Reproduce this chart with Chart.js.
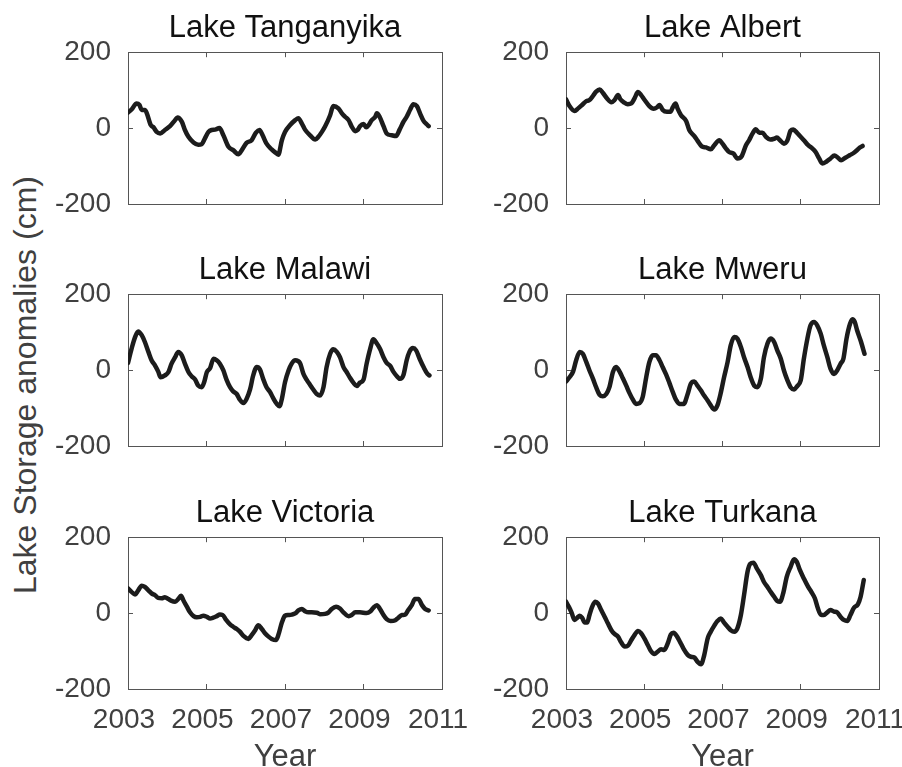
<!DOCTYPE html>
<html>
<head>
<meta charset="utf-8">
<title>Lake Storage anomalies</title>
<script src="https://cdn.jsdelivr.net/npm/chart.js@4.4.1/dist/chart.umd.min.js"></script>
<style>
  html, body { margin: 0; padding: 0; background: #fff; overflow: hidden; }
  #fig { position: relative; width: 902px; height: 767px; }
  #fig canvas { position: absolute; }
  #ylabel {
    position: absolute; left: 25px; top: 385px;
    transform: translate(-50%, -50%) rotate(-90deg);
    font: 32px "Liberation Sans", Arial, sans-serif; line-height: 1;
    color: #404040; white-space: nowrap;
  }
</style>
</head>
<body>
<div id="fig">
  <div id="ylabel">Lake Storage anomalies (cm)</div>
  <canvas id="tanganyika" width="434" height="216" style="left:48px;top:0px"></canvas>
  <canvas id="albert" width="416" height="216" style="left:486px;top:0px"></canvas>
  <canvas id="malawi" width="434" height="216" style="left:48px;top:242px"></canvas>
  <canvas id="mweru" width="416" height="216" style="left:486px;top:242px"></canvas>
  <canvas id="victoria" width="434" height="282" style="left:48px;top:485px"></canvas>
  <canvas id="turkana" width="416" height="282" style="left:486px;top:485px"></canvas>
</div>
<script>
// values (decimal year, storage anomaly in cm)
const tanganyikaYears = [2003.00,2003.09,2003.22,2003.29,2003.35,2003.43,2003.48,2003.58,2003.65,2003.73,
  2003.82,2003.94,2004.07,2004.20,2004.26,2004.37,2004.45,2004.54,2004.67,2004.79,
  2004.88,2004.96,2005.05,2005.13,2005.22,2005.33,2005.43,2005.56,2005.68,2005.81,
  2005.90,2006.02,2006.15,2006.26,2006.35,2006.43,2006.53,2006.66,2006.75,2006.83,
  2006.92,2007.00,2007.13,2007.26,2007.34,2007.43,2007.51,2007.64,2007.77,2007.85,
  2007.94,2008.02,2008.15,2008.23,2008.36,2008.45,2008.53,2008.62,2008.70,2008.79,
  2008.85,2008.91,2009.00,2009.07,2009.13,2009.21,2009.30,2009.34,2009.41,2009.51,
  2009.59,2009.72,2009.83,2009.92,2010.02,2010.10,2010.19,2010.27,2010.36,2010.44,
  2010.53,2010.61,2010.66];
const tanganyikaCm = [41,49,65,61,48,48,39,8,2,-10,
  -14,-5,5,21,28,17,-5,-23,-38,-44,
  -42,-27,-10,-5,-4,0,-19,-49,-58,-69,
  -58,-39,-32,-12,-5,-19,-41,-56,-64,-70,
  -32,-10,8,21,26,12,-4,-19,-30,-23,
  -10,4,34,58,52,39,30,21,4,-8,
  -5,5,11,2,8,21,30,39,30,5,
  -14,-19,-21,-4,17,30,49,63,58,39,
  19,10,5];

const albertYears = [2003.00,2003.09,2003.22,2003.31,2003.43,2003.52,2003.60,2003.69,2003.77,2003.86,
  2003.94,2004.05,2004.16,2004.24,2004.33,2004.39,2004.48,2004.58,2004.67,2004.75,
  2004.84,2004.92,2005.01,2005.13,2005.24,2005.33,2005.39,2005.47,2005.58,2005.67,
  2005.73,2005.80,2005.85,2005.94,2006.07,2006.15,2006.28,2006.36,2006.47,2006.58,
  2006.70,2006.79,2006.92,2007.00,2007.09,2007.17,2007.28,2007.38,2007.49,2007.60,
  2007.68,2007.77,2007.85,2007.94,2008.02,2008.11,2008.22,2008.32,2008.39,2008.47,
  2008.57,2008.66,2008.74,2008.81,2008.90,2008.98,2009.08,2009.19,2009.30,2009.38,
  2009.47,2009.55,2009.66,2009.76,2009.86,2009.95,2010.03,2010.14,2010.26,2010.36,
  2010.44,2010.51,2010.58];
const albertCm = [76,58,45,52,63,71,74,85,96,102,
  93,78,68,74,87,76,68,63,65,78,
  95,87,74,58,51,55,61,48,43,43,
  55,65,52,34,19,-5,-21,-33,-48,-51,
  -56,-45,-32,-41,-54,-63,-67,-80,-74,-45,
  -32,-14,-3,-12,-12,-23,-30,-28,-25,-32,
  -41,-32,-7,-4,-12,-21,-32,-45,-54,-63,
  -80,-93,-88,-80,-72,-78,-85,-78,-71,-65,
  -58,-51,-47];

const malawiYears = [2003.00,2003.09,2003.18,2003.26,2003.35,2003.43,2003.52,2003.60,2003.69,2003.77,
  2003.83,2003.94,2004.03,2004.11,2004.20,2004.28,2004.37,2004.45,2004.54,2004.62,
  2004.71,2004.79,2004.88,2004.94,2005.01,2005.09,2005.18,2005.26,2005.34,2005.43,
  2005.51,2005.60,2005.68,2005.77,2005.85,2005.94,2006.02,2006.11,2006.19,2006.28,
  2006.36,2006.45,2006.53,2006.62,2006.70,2006.79,2006.86,2006.92,2007.00,2007.09,
  2007.17,2007.26,2007.38,2007.47,2007.55,2007.64,2007.72,2007.81,2007.89,2007.98,
  2008.06,2008.15,2008.23,2008.32,2008.40,2008.49,2008.57,2008.66,2008.74,2008.83,
  2008.91,2009.00,2009.08,2009.17,2009.25,2009.34,2009.42,2009.51,2009.59,2009.68,
  2009.76,2009.85,2009.93,2010.02,2010.10,2010.17,2010.26,2010.34,2010.43,2010.53,
  2010.63,2010.68];
const malawiCm = [19,56,87,102,92,74,48,26,12,-4,
  -19,-14,-5,17,34,48,39,17,-5,-16,
  -25,-41,-45,-32,-5,5,30,26,17,-1,
  -25,-45,-56,-63,-78,-87,-76,-51,-14,8,
  2,-25,-45,-58,-74,-89,-95,-76,-32,-1,
  17,26,19,-10,-25,-39,-51,-63,-67,-45,
  8,43,55,48,34,8,-5,-21,-33,-42,
  -33,-25,17,56,81,70,56,34,19,11,
  -4,-16,-23,-12,26,48,58,52,30,8,
  -10,-14];

const mweruYears = [2003.00,2003.09,2003.18,2003.26,2003.35,2003.43,2003.52,2003.60,2003.69,2003.77,
  2003.86,2003.94,2004.03,2004.11,2004.20,2004.28,2004.37,2004.45,2004.54,2004.62,
  2004.71,2004.79,2004.88,2004.96,2005.05,2005.13,2005.22,2005.30,2005.39,2005.47,
  2005.56,2005.64,2005.73,2005.81,2005.90,2006.01,2006.11,2006.19,2006.28,2006.36,
  2006.45,2006.53,2006.62,2006.70,2006.79,2006.87,2006.96,2007.04,2007.13,2007.21,
  2007.30,2007.38,2007.47,2007.55,2007.64,2007.72,2007.81,2007.89,2007.98,2008.06,
  2008.15,2008.23,2008.32,2008.40,2008.49,2008.57,2008.66,2008.74,2008.83,2008.91,
  2009.00,2009.08,2009.17,2009.25,2009.34,2009.42,2009.51,2009.59,2009.68,2009.76,
  2009.85,2009.93,2010.02,2010.09,2010.17,2010.26,2010.32,2010.38,2010.44,2010.53,
  2010.63];
const mweruCm = [-30,-19,-4,26,48,43,21,-1,-23,-45,
  -65,-69,-63,-45,-5,8,-4,-21,-41,-60,
  -78,-89,-87,-71,-19,21,39,39,26,8,
  -12,-33,-58,-78,-89,-89,-63,-36,-30,-41,
  -54,-67,-80,-93,-104,-93,-58,-19,21,65,
  87,83,61,34,8,-19,-41,-45,-23,34,
  70,83,74,52,30,-1,-27,-45,-51,-42,
  -27,30,83,118,127,118,96,65,34,4,
  -10,-1,17,30,83,122,134,127,105,78,
  43];

const victoriaYears = [2003.00,2003.09,2003.18,2003.26,2003.35,2003.43,2003.52,2003.60,2003.69,2003.77,
  2003.86,2003.94,2004.03,2004.11,2004.20,2004.28,2004.35,2004.41,2004.50,2004.58,
  2004.67,2004.75,2004.84,2004.92,2005.01,2005.09,2005.17,2005.26,2005.34,2005.41,
  2005.50,2005.60,2005.68,2005.77,2005.85,2005.94,2006.07,2006.15,2006.24,2006.32,
  2006.41,2006.49,2006.58,2006.66,2006.77,2006.83,2006.92,2007.00,2007.09,2007.17,
  2007.26,2007.34,2007.43,2007.51,2007.60,2007.68,2007.81,2007.89,2008.02,2008.11,
  2008.19,2008.30,2008.40,2008.49,2008.62,2008.70,2008.79,2008.91,2009.08,2009.17,
  2009.25,2009.34,2009.42,2009.51,2009.59,2009.69,2009.81,2009.89,2009.98,2010.06,
  2010.14,2010.23,2010.31,2010.40,2010.49,2010.57,2010.66];
const victoriaCm = [65,56,49,60,72,69,60,52,47,40,
  39,42,37,32,30,37,46,34,17,2,
  -8,-11,-10,-7,-10,-14,-12,-8,-4,-5,
  -18,-30,-36,-42,-49,-60,-68,-58,-45,-32,
  -42,-53,-62,-68,-71,-58,-25,-7,-5,-4,
  -1,7,11,5,2,2,1,-3,-2,2,
  11,17,12,2,-8,-5,2,2,0,4,
  14,21,11,-5,-16,-21,-19,-12,-5,-4,
  8,21,37,37,21,11,7];

const turkanaYears = [2003.00,2003.07,2003.14,2003.22,2003.29,2003.35,2003.41,2003.48,2003.54,2003.60,
  2003.67,2003.75,2003.82,2003.90,2003.99,2004.07,2004.16,2004.24,2004.33,2004.41,
  2004.50,2004.58,2004.67,2004.75,2004.84,2004.92,2005.01,2005.09,2005.17,2005.26,
  2005.34,2005.43,2005.51,2005.60,2005.68,2005.75,2005.84,2005.92,2006.01,2006.11,
  2006.19,2006.28,2006.36,2006.45,2006.53,2006.62,2006.70,2006.79,2006.87,2006.96,
  2007.04,2007.13,2007.21,2007.30,2007.38,2007.47,2007.55,2007.64,2007.71,2007.79,
  2007.88,2007.98,2008.06,2008.15,2008.23,2008.32,2008.40,2008.47,2008.56,2008.64,
  2008.74,2008.83,2008.90,2008.98,2009.08,2009.19,2009.27,2009.36,2009.44,2009.51,
  2009.59,2009.68,2009.76,2009.85,2009.93,2010.02,2010.10,2010.19,2010.27,2010.36,
  2010.46,2010.53,2010.61];
const turkanaCm = [30,17,2,-18,-12,-7,-12,-25,-25,-5,
  17,30,25,8,-10,-27,-45,-55,-62,-77,
  -88,-86,-71,-58,-47,-53,-68,-84,-100,-108,
  -102,-95,-97,-80,-56,-52,-62,-77,-95,-110,
  -115,-117,-128,-135,-112,-67,-49,-33,-21,-14,
  -25,-36,-45,-49,-40,-5,47,109,130,133,
  117,100,82,69,56,43,32,30,56,95,
  122,142,135,113,91,69,56,39,12,-4,
  -5,2,8,4,2,-10,-18,-21,-5,14,
  23,43,87];

const yearTicks = [2003, 2005, 2007, 2009, 2011];
const cmTicks = [-200, 0, 200];

const family = "'Liberation Sans', Arial, sans-serif";
const tickColor = "#404040";
const boxColor = "#555555";

function lakeChart(id, title, years, cm, bottomRow, rightMargin) {
  const points = years.map((x, i) => ({ x: x, y: cm[i] }));
  const inTicks = { drawOnChartArea: false, drawTicks: true, tickLength: -5, color: boxColor, lineWidth: 1 };
  const border = { display: true, color: boxColor, width: 1 };
  const setTicks = (scale, list) => { scale.ticks = list.map((v) => ({ value: v })); };

  return new Chart(document.getElementById(id), {
    type: "line",
    data: {
      datasets: [
        {
          data: points,
          borderColor: "#1c1c1c",
          borderWidth: 4.5,
          pointRadius: 0,
          fill: false,
          cubicInterpolationMode: "monotone",
          borderJoinStyle: "round",
          borderCapStyle: "round",
        },
      ],
    },
    options: {
      responsive: false,
      animation: false,
      devicePixelRatio: 1,
      layout: { padding: { right: rightMargin } },
      plugins: {
        legend: { display: false },
        tooltip: { enabled: false },
        title: {
          display: true,
          text: title,
          fullSize: false,
          color: "#111111",
          font: { family: family, size: 31, weight: "normal", lineHeight: 1.2 },
          padding: { top: 10, bottom: 5 },
        },
      },
      scales: {
        x: {
          type: "linear",
          position: "bottom",
          min: 2003,
          max: 2011,
          grid: inTicks,
          border: border,
          afterBuildTicks: (s) => setTicks(s, yearTicks),
          ticks: {
            display: bottomRow,
            padding: 19,
            labelOffset: -4,
            maxRotation: 0,
            autoSkip: false,
            color: tickColor,
            font: { family: family, size: 28 },
            callback: (v) => String(v),
          },
          title: {
            display: bottomRow,
            text: "Year",
            color: tickColor,
            font: { family: family, size: 31, lineHeight: 1 },
            padding: { top: 0, bottom: -6 },
          },
          afterFit: (s) => {
            s.height = bottomRow ? 78 : 12;
            s.paddingLeft = 0;
            s.paddingRight = 0;
          },
        },
        xTop: {
          type: "linear",
          position: "top",
          min: 2003,
          max: 2011,
          grid: inTicks,
          border: border,
          afterBuildTicks: (s) => setTicks(s, yearTicks),
          ticks: { display: false },
          afterFit: (s) => { s.height = 0; },
        },
        y: {
          type: "linear",
          position: "left",
          min: -200,
          max: 200,
          grid: inTicks,
          border: border,
          afterBuildTicks: (s) => setTicks(s, cmTicks),
          ticks: {
            padding: 22,
            color: tickColor,
            font: { family: family, size: 28 },
            callback: (v) => String(v),
          },
          afterFit: (s) => {
            s.width = 80;
            s.paddingTop = 0;
            s.paddingBottom = 0;
          },
        },
        yRight: {
          type: "linear",
          position: "right",
          min: -200,
          max: 200,
          grid: inTicks,
          border: border,
          afterBuildTicks: (s) => setTicks(s, cmTicks),
          ticks: { display: false },
          afterFit: (s) => { s.width = 0; },
        },
      },
    },
  });
}

lakeChart("tanganyika", "Lake Tanganyika", tanganyikaYears, tanganyikaCm, false, 40);
lakeChart("albert", "Lake Albert", albertYears, albertCm, false, 23);
lakeChart("malawi", "Lake Malawi", malawiYears, malawiCm, false, 40);
lakeChart("mweru", "Lake Mweru", mweruYears, mweruCm, false, 23);
lakeChart("victoria", "Lake Victoria", victoriaYears, victoriaCm, true, 40);
lakeChart("turkana", "Lake Turkana", turkanaYears, turkanaCm, true, 23);
</script>
</body>
</html>
